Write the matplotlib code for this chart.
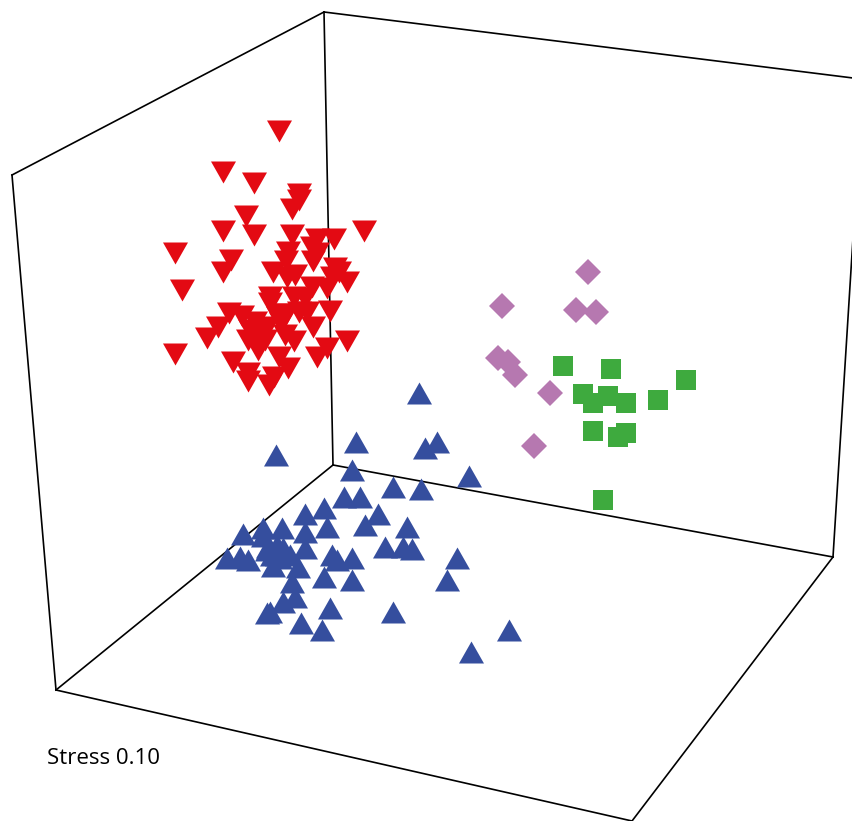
import numpy as np
import matplotlib
matplotlib.use('Agg')
import matplotlib.pyplot as plt

## positions (pixels)
red_x = [279, 223, 254, 299, 299, 292, 246, 223, 254, 292, 364, 175, 231, 223, 182,
         317, 334, 312, 288, 286, 313, 273, 295, 335, 339, 332, 347, 312, 327, 287,
         270, 294, 305, 270, 279, 307, 330, 229, 242, 255, 218, 207, 248, 265, 281,
         285, 294, 313, 347, 327, 317, 279, 288, 233, 248, 274, 269, 175, 258, 260,
         250, 257, 267, 278, 317, 299, 286, 248]
red_y = [131, 172, 183, 194, 200, 209, 216, 231, 235, 235, 231, 253, 260, 272, 290,
         239, 239, 247, 252, 261, 261, 272, 275, 268, 272, 277, 282, 287, 288, 277,
         297, 297, 298, 303, 314, 312, 311, 313, 316, 322, 327, 338, 340, 340, 323,
         335, 341, 327, 341, 348, 357, 357, 368, 362, 373, 377, 385, 354, 350, 330,
         330, 333, 327, 317, 253, 312, 314, 381]

blue_x = [356, 276, 425, 437, 352, 469, 393, 421, 344, 360, 378, 324, 305, 327, 365,
          407, 305, 282, 263, 243, 385, 403, 412, 305, 267, 283, 227, 240, 248, 277,
          332, 337, 352, 457, 298, 273, 324, 352, 447, 292, 295, 283, 270, 267, 330,
          393, 301, 322, 509, 471, 419, 263, 277, 290, 272, 280, 268]
blue_y = [442, 455, 448, 442, 470, 476, 487, 489, 497, 497, 514, 508, 514, 527, 525,
          527, 532, 528, 528, 534, 547, 547, 549, 548, 550, 548, 558, 557, 560, 555,
          555, 560, 558, 558, 567, 566, 577, 580, 580, 582, 597, 602, 612, 613, 608,
          612, 623, 630, 630, 652, 393, 536, 545, 555, 555, 558, 547]

green_x = [563, 611, 686, 583, 608, 593, 626, 658, 593, 626, 618, 603]
green_y = [366, 369, 380, 394, 396, 403, 403, 400, 431, 433, 437, 500]

purple_x = [588, 502, 576, 596, 498, 508, 515, 550, 534]
purple_y = [272, 306, 310, 312, 358, 362, 375, 393, 446]

# box edges
edge_x = [[12, 324], [324, 853], [12, 56], [324, 333], [56, 333], [333, 833], [56, 632], [833, 632], [833, 853]]
edge_y = [[175, 12], [12, 78], [175, 690], [12, 465], [690, 465], [465, 557], [690, 821], [557, 821], [557, 238]]

fig = plt.figure(figsize=(8.53, 8.21), dpi=100)
ax = fig.add_axes([0, 0, 1, 1])
ax.set_xlim(0, 853)
ax.set_ylim(821, 0)
ax.axis('off')

for ex, ey in zip(edge_x, edge_y):
    ax.plot(ex, ey, color='black', lw=1.2, zorder=1)

tri_up = [(-0.5, -0.44), (0.5, -0.44), (0, 0.44)]
tri_down = [(-0.5, 0.44), (0.5, 0.44), (0, -0.44)]

ax.plot(red_x, red_y, ls='none', marker=tri_down, ms=18, color='#e30a13', mew=0, zorder=2)
ax.plot(blue_x, blue_y, ls='none', marker=tri_up, ms=18, color='#354e9e', mew=0, zorder=2)
ax.plot(green_x, green_y, ls='none', marker='s', ms=14.4, color='#3eaa3e', mew=0, zorder=2)
ax.plot(purple_x, purple_y, ls='none', marker='D', ms=13, color='#b678b0', mew=0, zorder=2)

ax.text(47, 758, 'Stress 0.10', fontsize=16, family='Open Sans', va='center', ha='left', color='black')

fig.savefig('out.png', dpi=100)
print('done')
